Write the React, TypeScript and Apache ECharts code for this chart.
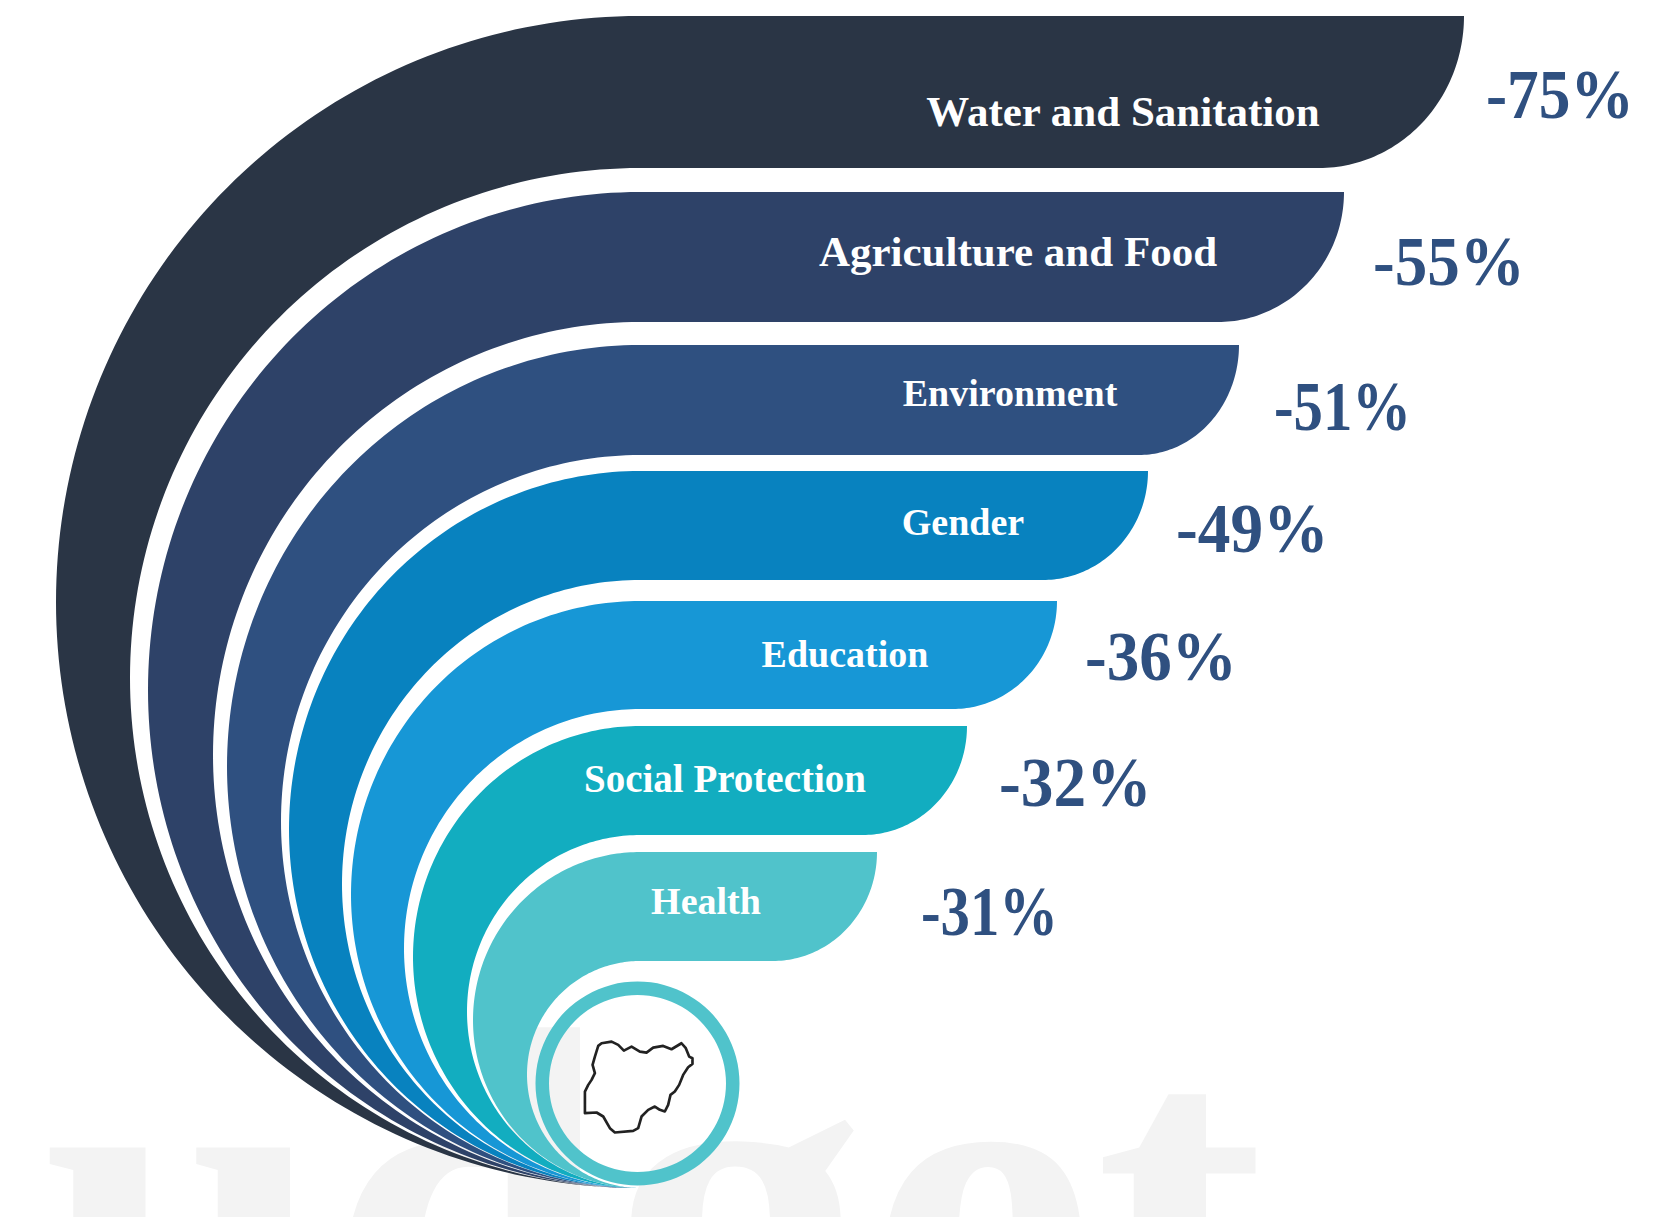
import React, { useEffect, useRef } from "react";
import * as echarts from "echarts";

// Cuts by sector, in percent
const sectors = [
  "Water and Sanitation",
  "Agriculture and Food",
  "Environment",
  "Gender",
  "Education",
  "Social Protection",
  "Health",
];
const cuts = [75, 55, 51, 49, 36, 32, 31];

// Ribbon layout, in axis units, indexed by rank from the largest cut down
const ribbonTop = [16, 192, 345, 471, 601, 726, 852];
const ribbonBottom = [168, 322, 455, 580, 709, 835, 961];
const ribbonOuterLeft = [56, 148, 227, 289, 351, 413, 473];
const ribbonInnerLeft = [130, 213, 281, 342, 404, 467, 527];
const ribbonTip = [1464, 1344, 1239, 1148, 1057, 967, 877];
const ribbonTail = [1319, 1218, 1139, 1043, 953, 863, 773];
const ribbonColors = ["#2a3545", "#2e4268", "#2f5080", "#0882bf", "#1797d6", "#12adc0", "#50c3cb"];

const nameCenterX = [1123, 1018, 1010, 963, 845, 725, 706];
const nameY = [111, 251, 393, 522, 654, 778, 901];
const nameSize = [43, 43, 38, 38, 38, 39, 38];
const cutX = [1486, 1373, 1274, 1176, 1085, 999, 921];
const cutY = [94, 262, 406, 529, 657, 783, 911];
const cutStretch = [0.905, 0.93, 0.84, 0.934, 0.93, 0.934, 0.84];

const PIVOT_X = 640;
const PIVOT_Y = 1188;
const SERIF = '"Liberation Serif", serif';

const NIGERIA =
  "M295 258L305 250L335 245L355 255L372 272L395 260L420 275L440 278L460 263L490 258L515 268L545 250L558 265L568 290L578 295L578 312L565 322L550 345L538 375L525 395L512 405L505 435L495 455L480 450L465 440L445 450L425 470L415 505L400 513L345 518L330 505L310 470L290 458L255 460L255 395L265 375L275 360L285 340L278 315L285 290Z";

echarts.graphic.registerShape("nigeria", echarts.graphic.extendPath(NIGERIA, {}) as any);

// Half ellipse hanging from the shared bottom pivot, walked from its top to the pivot
function leftArc(top: number, left: number, reverse: boolean, steps = 160): number[][] {
  const cy = (top + PIVOT_Y) / 2;
  const ry = (PIVOT_Y - top) / 2;
  const rx = PIVOT_X - left;
  const pts: number[][] = [];
  for (let k = 0; k <= steps; k++) {
    const t = (k / steps) * Math.PI;
    pts.push([PIVOT_X - rx * Math.sin(t), cy - ry * Math.cos(t)]);
  }
  return reverse ? pts.reverse() : pts;
}

function ribbonPoints(rank: number): number[][] {
  const top = ribbonTop[rank];
  const bottom = ribbonBottom[rank];
  const tip = ribbonTip[rank];
  const tail = ribbonTail[rank];
  const pts: number[][] = [[tail, top]];
  pts.push([tip, top]);
  for (let k = 1; k <= 60; k++) {
    const t = (k / 60) * (Math.PI / 2);
    pts.push([tail + (tip - tail) * Math.cos(t), top + (bottom - top) * Math.sin(t)]);
  }
  pts.push(...leftArc(bottom, ribbonInnerLeft[rank], false));
  pts.push(...leftArc(top, ribbonOuterLeft[rank], true));
  return pts;
}

// The longest ribbon carries the largest cut
const rankOf = (value: number) => [...cuts].sort((a, b) => b - a).indexOf(value);

function renderRibbon(params: any, api: any) {
  const value = api.value(1);
  const rank = rankOf(value);
  const points = ribbonPoints(rank).map((p) => api.coord(p));
  const [nx, ny] = api.coord([nameCenterX[rank], nameY[rank]]);
  const [cx, cy] = api.coord([cutX[rank], cutY[rank]]);
  return {
    type: "group",
    children: [
      { type: "polygon", shape: { points }, style: { fill: ribbonColors[rank] } },
      {
        type: "text",
        x: nx,
        y: ny,
        style: {
          text: sectors[params.dataIndex],
          fill: "#ffffff",
          font: `bold ${nameSize[rank]}px ${SERIF}`,
          textAlign: "center",
          textVerticalAlign: "middle",
        },
      },
      {
        type: "text",
        x: cx,
        y: cy,
        scaleX: cutStretch[rank],
        style: {
          text: `-${value}%`,
          fill: "#2f5080",
          font: `bold 70px ${SERIF}`,
          textAlign: "left",
          textVerticalAlign: "middle",
        },
      },
    ],
  };
}

export default function App() {
  const ref = useRef<HTMLDivElement>(null);

  useEffect(() => {
    document.body.style.margin = "0";
    document.body.style.overflow = "hidden";
    const chart = echarts.init(ref.current!, null, { renderer: "svg" });
    chart.setOption({
      animation: false,
      backgroundColor: "#ffffff",
      grid: { left: 0, right: 0, top: 0, bottom: 0 },
      xAxis: { type: "value", min: 0, max: 1661, show: false },
      yAxis: { type: "value", min: 0, max: 1217, inverse: true, show: false },
      graphic: [
        {
          type: "text",
          x: 42,
          y: 1466,
          z: 0,
          silent: true,
          style: {
            text: "udget",
            fill: "#f3f3f3",
            font: `bold 512px ${SERIF}`,
            textAlign: "left",
            textVerticalAlign: "bottom",
          },
        },
        {
          type: "ring",
          z: 5,
          shape: { cx: 637.5, cy: 1083.5, r: 102, r0: 88.5 },
          style: { fill: "#50c3cb" },
        },
        {
          type: "nigeria",
          z: 6,
          x: 500,
          y: 960,
          scaleX: 1 / 3,
          scaleY: 1 / 3,
          style: { fill: "none", stroke: "#222222", lineWidth: 8, lineJoin: "round" },
        },
      ],
      series: [
        {
          type: "custom",
          z: 3,
          coordinateSystem: "cartesian2d",
          silent: true,
          clip: false,
          encode: { x: 0, y: 1 },
          renderItem: renderRibbon,
          data: cuts.map((v, i) => [i, v]),
        },
      ],
    });
    return () => chart.dispose();
  }, []);

  return <div ref={ref} style={{ width: 1661, height: 1217 }} />;
}
